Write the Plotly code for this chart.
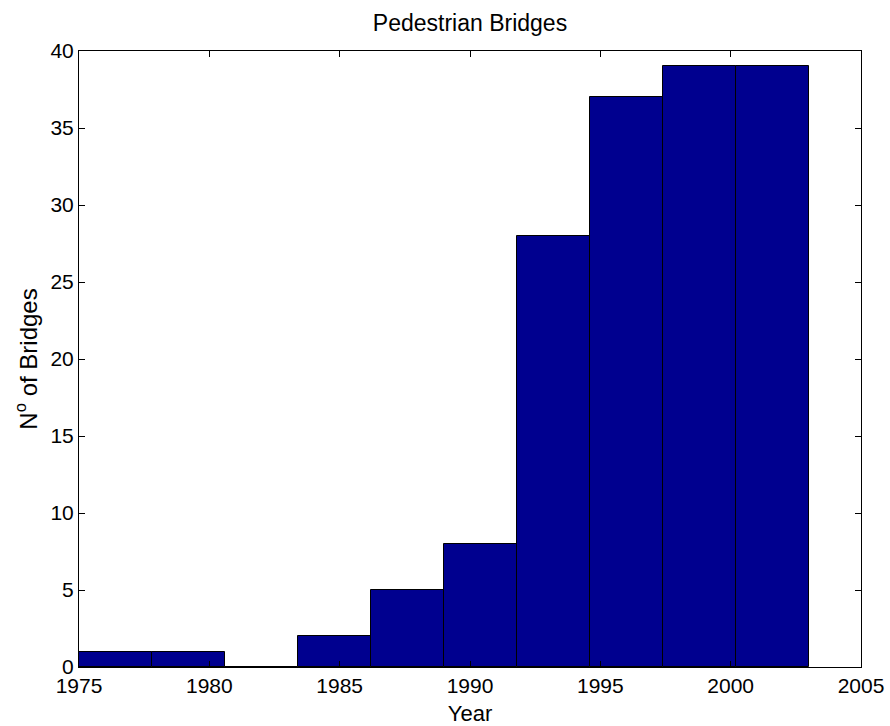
import numpy as np
import plotly.graph_objects as go

# Data
year_min = 1975
year_max = 2003
n_bins = 10
counts = [1, 1, 0, 2, 5, 8, 28, 37, 39, 39]
x_ticks = [1975, 1980, 1985, 1990, 1995, 2000, 2005]
y_ticks = [0, 5, 10, 15, 20, 25, 30, 35, 40]

edges = np.linspace(year_min, year_max, n_bins + 1)
centers = (edges[:-1] + edges[1:]) / 2
width = edges[1] - edges[0]

fig = go.Figure()
fig.add_trace(go.Bar(
    x=centers, y=counts, width=width,
    marker=dict(color="#00008F", line=dict(color="black", width=1)),
    hoverinfo="x+y",
))

W, H = 890, 726
L, R, T, B = 79, 29, 51, 59
font_family = "Liberation Sans, Arial, sans-serif"
fig.update_layout(
    width=W, height=H,
    margin=dict(l=L, r=R, t=T, b=B, autoexpand=False),
    paper_bgcolor="white", plot_bgcolor="white",
    showlegend=False,
    bargap=0,
    font=dict(family=font_family, color="black"),
    title=dict(text="Pedestrian Bridges", x=(L + W - R) / 2 / W, xanchor="center",
               y=1 - 23 / H, yanchor="middle", font=dict(size=23, family=font_family)),
    xaxis=dict(range=[1975, 2005], tickvals=x_ticks, ticks="inside", ticklen=6,
               tickcolor="black", showline=True, linecolor="black", linewidth=1,
               mirror="ticks", showgrid=False, zeroline=False, automargin=False,
               ticklabeloverflow="allow",
               tickfont=dict(size=21), title=dict(text="Year", font=dict(size=22), standoff=12)),
    yaxis=dict(range=[0, 40], tickvals=y_ticks, ticks="inside", ticklen=6,
               tickcolor="black", showline=True, linecolor="black", linewidth=1,
               mirror="ticks", showgrid=False, zeroline=False, automargin=False,
               ticklabeloverflow="allow",
               tickfont=dict(size=21),
               title=dict(text="N<sup>o</sup> of Bridges", font=dict(size=24), standoff=6)),
)

# remove the browser's default 8px page margin so the figure fills the window exactly
fig.write_html("out.html", config={"displayModeBar": False},
               post_script="document.body.style.margin='0';document.body.style.overflow='hidden';")
